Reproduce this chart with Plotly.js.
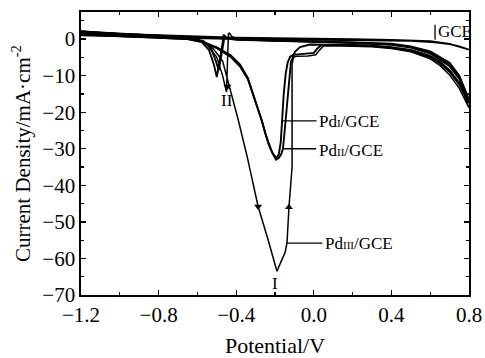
<!DOCTYPE html>
<html>
<head>
<meta charset="utf-8">
<script src="https://cdn.plot.ly/plotly-3.0.1.min.js"></script>
<style>html,body{margin:0;padding:0;background:#fff;}#chart{width:485px;height:358px;}</style>
</head>
<body>
<div id="chart"></div>
<script>
// GCE loop
const gceX = [-1.2, -1.0, -0.8, -0.6, -0.4, -0.2, 0.0, 0.2, 0.4, 0.5, 0.6, 0.7, 0.75, 0.8, 0.75, 0.7, 0.6, 0.5, 0.4, 0.2, 0.0, -0.2, -0.4, -0.6, -0.8, -1.0, -1.2];
const gceY = [1.0, 0.7, 0.4, 0.2, 0.0, -0.1, -0.2, -0.3, -0.4, -0.5, -0.8, -1.4, -2.0, -2.9, -2.2, -1.3, -0.6, -0.3, -0.2, 0.0, 0.1, 0.2, 0.4, 0.7, 1.0, 1.4, 2.0];

// Pd_I/GCE loop
const pd1X = [-1.2, -1.0, -0.8, -0.65, -0.57, -0.5, -0.43, -0.38, -0.34, -0.30, -0.267, -0.235, -0.21, -0.192, -0.18, -0.17, -0.164, -0.155, -0.145, -0.135, -0.122, -0.105, -0.08, -0.03, 0.0, 0.02, 0.04, 0.1, 0.2, 0.3, 0.4, 0.5, 0.6, 0.65, 0.7, 0.75, 0.8,
              0.75, 0.7, 0.6, 0.5, 0.4, 0.2, 0.0, -0.2, -0.4, -0.45, -0.46, -0.465, -0.48, -0.49, -0.505, -0.53, -0.57, -0.65, -0.8, -1.0, -1.2];
const pd1Y = [1.2, 0.8, 0.5, 0.0, -0.9, -2.5, -4.8, -7.5, -11, -17, -22.5, -28.5, -31.5, -32.5, -31.5, -28, -22.4, -15, -9.5, -6.5, -4.8, -4.3, -4.2, -4.0, -3.8, -2.5, -1.6, -1.6, -1.7, -1.9, -2.4, -3.2, -5.0, -6.6, -9.0, -12.5, -17.5,
              -10.5, -7.0, -3.7, -2.2, -1.4, -1.0, -0.7, -0.4, -0.2, 0.2, 1.0, -1.0, -5.5, -8.5, -6.0, -2.5, -0.5, 0.3, 0.9, 1.3, 1.9];

// Pd_II/GCE loop
const pd2X = [-1.2, -1.0, -0.8, -0.65, -0.57, -0.5, -0.43, -0.38, -0.34, -0.302, -0.267, -0.251, -0.215, -0.195, -0.18, -0.168, -0.159, -0.15, -0.14, -0.13, -0.118, -0.097, -0.071, -0.02, 0.1, 0.2, 0.3, 0.4, 0.5, 0.6, 0.65, 0.7, 0.75, 0.8,
              0.75, 0.7, 0.6, 0.5, 0.4, 0.2, 0.0, -0.2, -0.4, -0.455, -0.465, -0.47, -0.485, -0.5, -0.515, -0.54, -0.58, -0.65, -0.8, -1.0, -1.2];
const pd2Y = [1.3, 0.9, 0.5, 0.0, -0.8, -2.3, -4.4, -7.0, -10.6, -16.6, -22.5, -25.7, -31.0, -33.0, -32.5, -31.5, -30.0, -25.0, -18.5, -12.5, -6.3, -3.5, -2.2, -1.5, -1.5, -1.6, -1.8, -2.2, -3.0, -4.6, -6.2, -8.5, -12.0, -16.5,
              -10.0, -6.5, -3.4, -2.0, -1.3, -0.9, -0.6, -0.4, -0.1, 0.3, 1.2, -1.0, -6.0, -10.4, -7.0, -3.0, -0.6, 0.3, 0.9, 1.4, 2.1];

// Pd_III/GCE loop
const pd3X = [-1.2, -1.0, -0.8, -0.65, -0.58, -0.52, -0.47, -0.415, -0.39, -0.344, -0.287, -0.236, -0.205, -0.19, -0.17, -0.148, -0.138, -0.128, -0.112, -0.112, -0.112, -0.105, -0.09, -0.03, 0.01, 0.03, 0.05, 0.1, 0.2, 0.3, 0.4, 0.5, 0.6, 0.65, 0.7, 0.75, 0.8,
              0.75, 0.7, 0.6, 0.5, 0.4, 0.2, 0.0, -0.2, -0.38, -0.42, -0.435, -0.44, -0.443, -0.447, -0.45, -0.47, -0.5, -0.55, -0.6, -0.8, -1.0, -1.2];
const pd3Y = [1.6, 1.1, 0.7, 0.2, -0.5, -2.5, -6.0, -16.6, -22.0, -32.0, -45.8, -54.8, -61.0, -63.5, -61.0, -58.4, -55.6, -46.0, -35.0, -16.6, -7.0, -5.0, -4.7, -4.6, -4.3, -3.0, -1.9, -1.8, -1.9, -2.1, -2.6, -3.5, -5.4, -7.2, -9.8, -13.5, -18.8,
              -11.0, -7.5, -4.0, -2.4, -1.6, -1.1, -0.8, -0.5, -0.2, 0.6, 1.6, 1.5, -2.0, -9.0, -14.5, -10.0, -5.0, -1.5, 0.0, 0.9, 1.4, 2.2];

// scan-direction arrowheads
const arrowDownX = [-0.287, -0.445];
const arrowDownY = [-45.8, -13.0];
const arrowUpX = [-0.128];
const arrowUpY = [-46.0];

const serif = 'Liberation Serif, Times New Roman, serif';
const line = (x, y, w) => ({x: x, y: y, type: 'scatter', mode: 'lines', line: {color: '#000', width: w}, hoverinfo: 'skip', showlegend: false});

const data = [
  line(gceX, gceY, 1.8),
  line(pd1X, pd1Y, 1.9),
  line(pd2X, pd2Y, 1.9),
  line(pd3X, pd3Y, 1.5),
  {x: arrowDownX, y: arrowDownY, type: 'scatter', mode: 'markers', marker: {symbol: 'triangle-down', size: 7, color: '#000'}, showlegend: false, hoverinfo: 'skip'},
  {x: arrowUpX, y: arrowUpY, type: 'scatter', mode: 'markers', marker: {symbol: 'triangle-up', size: 7, color: '#000'}, showlegend: false, hoverinfo: 'skip'}
];

const small = s => '<span style="font-size:11px">' + s + '</span>';
const ann = (x, y, text, xanchor) => ({x: x, y: y, text: text, showarrow: false, xanchor: xanchor || 'left', yanchor: 'middle', font: {family: serif, size: 17, color: '#000'}});

const layout = {
  width: 485, height: 358,
  margin: {l: 81, r: 16, t: 12, b: 63},
  paper_bgcolor: '#fff', plot_bgcolor: '#fff',
  font: {family: serif, color: '#000'},
  xaxis: {
    range: [-1.2, 0.8], tick0: -1.2, dtick: 0.4, tickformat: '.1f',
    ticks: 'inside', ticklen: 5, tickwidth: 1.3, tickcolor: '#000',
    minor: {dtick: 0.2, ticks: 'inside', ticklen: 3, tickwidth: 1.3, tickcolor: '#000'},
    showline: true, linecolor: '#000', linewidth: 1.6, mirror: 'ticks',
    showgrid: false, zeroline: false,
    tickfont: {family: serif, size: 21, color: '#000'},
    title: {text: 'Potential/V', font: {family: serif, size: 22, color: '#000'}, standoff: 12}
  },
  yaxis: {
    range: [-70, 7.4], tick0: 0, dtick: 10,
    ticks: 'inside', ticklen: 5, tickwidth: 1.3, tickcolor: '#000',
    minor: {dtick: 5, ticks: 'inside', ticklen: 3, tickwidth: 1.3, tickcolor: '#000'},
    showline: true, linecolor: '#000', linewidth: 1.6, mirror: 'ticks',
    showgrid: false, zeroline: false,
    tickfont: {family: serif, size: 21, color: '#000'},
    title: {text: 'Current Density/mA·cm<sup>-2</sup>', font: {family: serif, size: 21, color: '#000'}, standoff: 6}
  },
  shapes: [
    {type: 'line', xref: 'x', yref: 'y', x0: 0.625, x1: 0.625, y0: 3.9, y1: -0.2, line: {color: '#000', width: 1.3}},
    {type: 'line', xref: 'x', yref: 'y', x0: -0.164, x1: 0.014, y0: -22.4, y1: -22.4, line: {color: '#000', width: 1.3}},
    {type: 'line', xref: 'x', yref: 'y', x0: -0.159, x1: 0.012, y0: -30.0, y1: -30.0, line: {color: '#000', width: 1.3}},
    {type: 'line', xref: 'x', yref: 'y', x0: -0.140, x1: 0.044, y0: -55.8, y1: -55.8, line: {color: '#000', width: 1.3}}
  ],
  annotations: [
    ann(0.628, 2.1, 'GCE'),
    ann(0.016, -22.6, 'Pd' + small('I') + '/GCE'),
    ann(0.014, -30.4, 'Pd' + small('II') + '/GCE'),
    ann(0.046, -56.0, 'Pd' + small('III') + '/GCE'),
    ann(-0.2, -66.8, 'I', 'center'),
    ann(-0.446, -16.8, 'II', 'center')
  ]
};

Plotly.newPlot('chart', data, layout, {displayModeBar: false, staticPlot: true});
</script>
</body>
</html>
